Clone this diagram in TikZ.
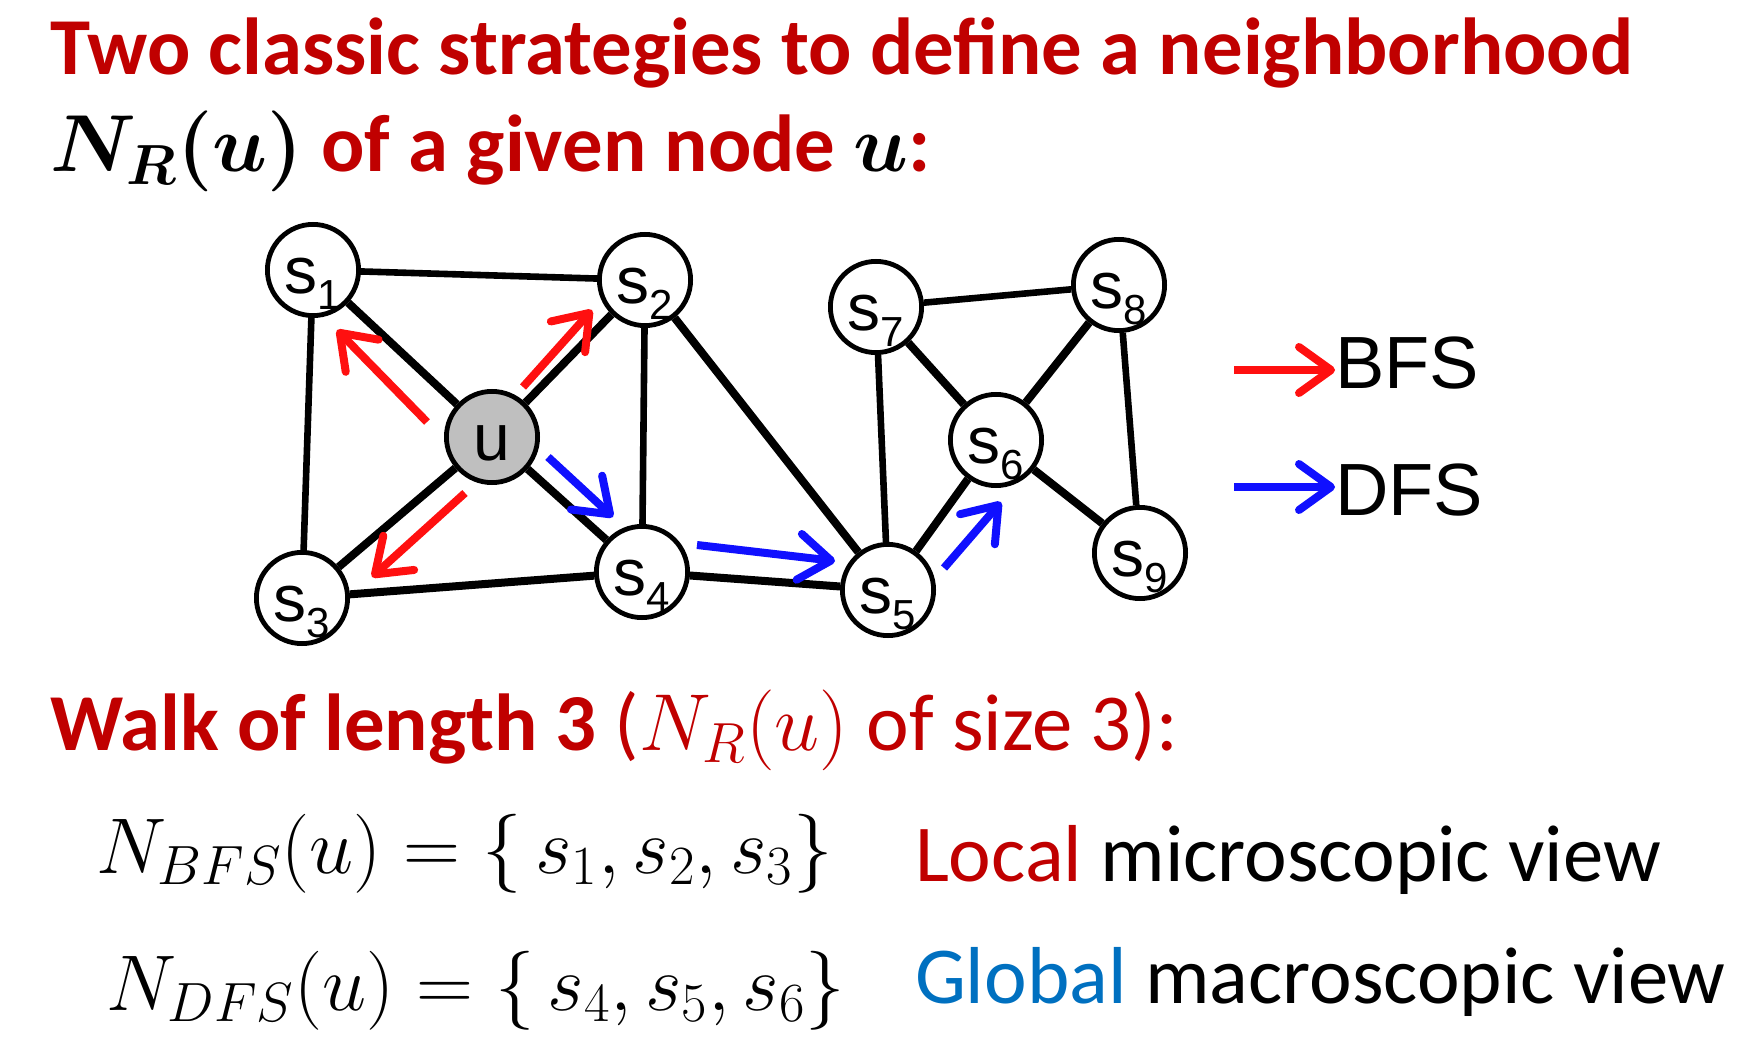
\RequirePackage{fix-cm}
\documentclass[tikz,border=0pt]{standalone}
\usepackage{amsmath}
\usepackage[no-math]{fontspec}
\setmainfont{Carlito}
\newfontfamily\arialf{Liberation Sans}
\usetikzlibrary{arrows.meta}
\definecolor{titlered}{HTML}{C00000}
\definecolor{arrred}{HTML}{FF1010}
\definecolor{arrblue}{HTML}{1010FF}
\definecolor{globblue}{HTML}{0070C0}
\definecolor{ugray}{HTML}{BFBFBF}
\newcommand\subidx[1]{\raisebox{-8pt}{\fontsize{21}{21}\selectfont #1}}
\begin{document}
\begin{tikzpicture}[x=0.5pt,y=-0.5pt,
  vtx/.style={circle,draw=black,line width=2.4pt,fill=white,minimum size=45.6pt,
    inner sep=0pt,text height=23pt,text depth=0pt,
    font=\arialf\fontsize{33}{33}\selectfont},
  thickedge/.style={line width=4pt,black},
  thinedge/.style={line width=3.3pt,black},
  bfsarrow/.style={line width=4pt,arrred,-{Straight Barb[round,length=16pt,width=23pt]}},
  dfsarrow/.style={line width=4pt,arrblue,-{Straight Barb[round,length=16pt,width=23pt]}},
  txt/.style={anchor=base west,inner sep=0pt,outer sep=0pt},
  big/.style={font=\fontsize{40.4}{48}\selectfont},
  mathbig/.style={font=\fontsize{39.5}{46}\selectfont}
]
\useasboundingbox (0,0) rectangle (1750,1048);

% nodes
\node[vtx] (s1) at (313,270) {s\subidx{1}};
\node[vtx] (s2) at (645,280) {s\subidx{2}};
\node[vtx,fill=ugray] (u) at (492,437) {u};
\node[vtx] (s3) at (302,598) {s\subidx{3}};
\node[vtx] (s4) at (642,572) {s\subidx{4}};
\node[vtx] (s5) at (888,590) {s\subidx{5}};
\node[vtx] (s6) at (996,440) {s\subidx{6}};
\node[vtx] (s7) at (876,307) {s\subidx{7}};
\node[vtx] (s8) at (1119,285) {s\subidx{8}};
\node[vtx] (s9) at (1140,553) {s\subidx{9}};

% edges
\draw[thinedge] (s1) -- (s2);
\draw[thickedge] (s1) -- (u);
\draw[thinedge] (s1) -- (s3);
\draw[thickedge] (s2) -- (u);
\draw[thinedge] (s2) -- (s4);
\draw[thickedge] (s2) -- (s5);
\draw[thickedge] (u) -- (s3);
\draw[thickedge] (u) -- (s4);
\draw[thickedge] (s3) -- (s4);
\draw[thickedge] (s4) -- (s5);
\draw[thinedge] (s5) -- (s7);
\draw[thickedge] (s5) -- (s6);
\draw[thinedge] (s7) -- (s8);
\draw[thickedge] (s7) -- (s6);
\draw[thickedge] (s8) -- (s6);
\draw[thinedge] (s8) -- (s9);
\draw[thickedge] (s6) -- (s9);

% traversal arrows
\coordinate (a1s) at (427,422); \coordinate (a1e) at (337,330);
\coordinate (a2s) at (523,387); \coordinate (a2e) at (592,310);
\coordinate (a3s) at (465,493); \coordinate (a3e) at (372,577);
\coordinate (b1s) at (548,457); \coordinate (b1e) at (613,517);
\coordinate (b2s) at (697,545); \coordinate (b2e) at (835,561);
\coordinate (b3s) at (944,568); \coordinate (b3e) at (1001,502);
\draw[bfsarrow] (a1s) -- (a1e);
\draw[bfsarrow] (a2s) -- (a2e);
\draw[bfsarrow] (a3s) -- (a3e);
\draw[dfsarrow] (b1s) -- (b1e);
\draw[dfsarrow] (b2s) -- (b2e);
\draw[dfsarrow] (b3s) -- (b3e);

% legend
\node[txt,font=\arialf\fontsize{37}{40}\selectfont] (bfs) at (1335,388) {BFS};
\node[txt,font=\arialf\fontsize{37}{40}\selectfont] (dfs) at (1335,515) {DFS};
\coordinate (lr) at (1234,370);
\coordinate (lb) at (1234,487);
\draw[bfsarrow] (lr) -- (bfs.west |- lr);
\draw[dfsarrow] (lb) -- (dfs.west |- lb);

% titles
\node[txt,big,text=titlered] (t1) at (50,75) {\bfseries Two classic strategies to define a neighborhood};
\node[txt,big,text=titlered] (t2) at (50,172) {\bfseries \textcolor{black}{\boldmath$N_R(u)$} of a given node \textcolor{black}{\boldmath$u$}:};
\node[txt,big,text=titlered] (t3) at (50,750) {\textbf{Walk of length 3} ($N_R(u)$ of size 3):};

% sets
\node[txt,mathbig] (m1) at (96,873) {$N_{BFS}(u)=\{\,s_1,s_2,s_3\}$};
\node[txt,mathbig] (m2) at (106,1010) {$N_{DFS}(u)=\{\,s_4,s_5,s_6\}$};
\node[txt,big] (d1) at (915,881) {\textcolor{titlered}{Local} microscopic view};
\node[txt,big] (d2) at (915,1003) {\textcolor{globblue}{Global} macroscopic view};
\end{tikzpicture}
\end{document}
